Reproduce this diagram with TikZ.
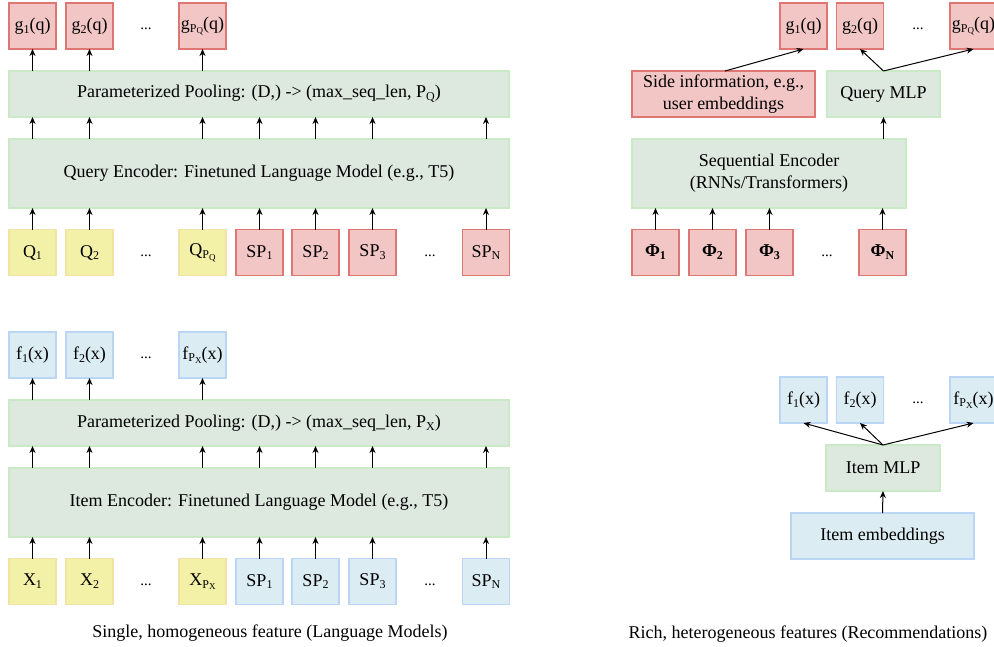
\documentclass[tikz,border=0pt]{standalone}
\usepackage{fontspec}
\setmainfont{Liberation Serif}
\usetikzlibrary{arrows.meta}
\definecolor{redfill}{HTML}{F3C6C6}
\definecolor{redline}{HTML}{DE7674}
\definecolor{yelfill}{HTML}{F3F1A8}
\definecolor{yelline}{HTML}{F3E2A6}
\definecolor{blufill}{HTML}{DCECF3}
\definecolor{bluline}{HTML}{BBD5F5}
\definecolor{grnfill}{HTML}{DDE8DF}
\definecolor{grnline}{HTML}{CAE9C5}
\newcommand\lsub[1]{\raisebox{-0.35ex}{\fontsize{12}{12}\selectfont #1}}
\newcommand\llsub[1]{\raisebox{-0.3ex}{\fontsize{9}{9}\selectfont #1}}
\begin{document}
\begin{tikzpicture}[x=1pt,y=-1pt,
  every node/.style={font=\fontsize{18}{22}\selectfont, inner sep=0pt, outer sep=0pt},
  box/.style={draw, line width=1.5pt, minimum width=47pt, minimum height=46pt},
  redbox/.style={box, fill=redfill, draw=redline},
  yelbox/.style={box, fill=yelfill, draw=yelline},
  blubox/.style={box, fill=blufill, draw=bluline},
  grnbox/.style={box, fill=grnfill, draw=grnline, align=center},
  arr/.style={-{Stealth[length=7pt,width=6pt]}, line width=1pt, black},
  dots/.style={font=\fontsize{15}{18}\selectfont}
]
\useasboundingbox (0,0) rectangle (994,646);

% ===== Top-left: query side =====
\node[redbox] (g1) at (32.5,26) {g\lsub{1}(q)};
\node[redbox] (g2) at (89.5,26) {g\lsub{2}(q)};
\node[dots] (gd) at (146,29) {...};
\node[redbox] (gp) at (202.5,26) {g\lsub{P\llsub{Q}}(q)};
\node[grnbox, minimum width=500pt] (poolq) at (259,94) {Parameterized Pooling: (D,) -> (max\_seq\_len, P\lsub{Q})};
\node[grnbox, minimum width=500pt, minimum height=69pt] (encq) at (259,173.5) {Query Encoder: Finetuned Language Model (e.g., T5)};
\node[yelbox] (q1) at (32.5,252.5) {Q\lsub{1}};
\node[yelbox] (q2) at (89.5,252.5) {Q\lsub{2}};
\node[dots] (qd) at (146,256) {...};
\node[yelbox] (qp) at (202.5,252.5) {Q\lsub{P\llsub{Q}}};
\node[redbox] (sa1) at (259.5,252.5) {SP\lsub{1}};
\node[redbox] (sa2) at (315.5,252.5) {SP\lsub{2}};
\node[redbox] (sa3) at (372.5,252.5) {SP\lsub{3}};
\node[dots] (sad) at (430,256) {...};
\node[redbox] (saN) at (486,252.5) {SP\lsub{N}};

\foreach \n in {q1,q2,qp,sa1,sa2,sa3,saN}{
  \draw[arr] (\n.north) -- (\n.north |- encq.south);
  \draw[arr] (\n.north |- encq.north) -- (\n.north |- poolq.south);
}
\foreach \n in {g1,g2,gp}{
  \draw[arr] (\n.south |- poolq.north) -- (\n.south);
}

% ===== Bottom-left: item side =====
\node[blubox] (f1) at (32.5,355) {f\lsub{1}(x)};
\node[blubox] (f2) at (89.5,355) {f\lsub{2}(x)};
\node[dots] (fd) at (146,358) {...};
\node[blubox] (fp) at (202.5,355) {f\lsub{P\llsub{X}}(x)};
\node[grnbox, minimum width=500pt] (poolx) at (259,423) {Parameterized Pooling: (D,) -> (max\_seq\_len, P\lsub{X})};
\node[grnbox, minimum width=500pt, minimum height=69pt] (encx) at (259,502.5) {Item Encoder: Finetuned Language Model (e.g., T5)};
\node[yelbox] (x1) at (32.5,581.5) {X\lsub{1}};
\node[yelbox] (x2) at (89.5,581.5) {X\lsub{2}};
\node[dots] (xd) at (146,585) {...};
\node[yelbox] (xp) at (202.5,581.5) {X\lsub{P\llsub{X}}};
\node[blubox] (sb1) at (259.5,581.5) {SP\lsub{1}};
\node[blubox] (sb2) at (315.5,581.5) {SP\lsub{2}};
\node[blubox] (sb3) at (372.5,581.5) {SP\lsub{3}};
\node[dots] (sbd) at (430,585) {...};
\node[blubox] (sbN) at (486,581.5) {SP\lsub{N}};

\foreach \n in {x1,x2,xp,sb1,sb2,sb3,sbN}{
  \draw[arr] (\n.north) -- (\n.north |- encx.south);
  \draw[arr] (\n.north |- encx.north) -- (\n.north |- poolx.south);
}
\foreach \n in {f1,f2,fp}{
  \draw[arr] (\n.south |- poolx.north) -- (\n.south);
}

\node (capl) at (270,633) {Single, homogeneous feature (Language Models)};

% ===== Top-right: recommendation query side =====
\node[redbox] (rg1) at (803.5,26) {g\lsub{1}(q)};
\node[redbox] (rg2) at (860,26) {g\lsub{2}(q)};
\node[dots] (rgd) at (918,29) {...};
\node[redbox] (rgp) at (973.5,26) {g\lsub{P\llsub{Q}}(q)};
\node[redbox, minimum width=183pt, align=center] (side) at (723.5,94) {Side information, e.g.,\\user embeddings};
\node[grnbox, minimum width=113pt] (qmlp) at (883.5,94) {Query MLP};
\node[grnbox, minimum width=274pt, minimum height=69pt] (seq) at (769,173.5) {Sequential Encoder\\(RNNs/Transformers)};
\node[redbox] (ph1) at (655.5,252.5) {\textbf{Φ\lsub{1}}};
\node[redbox] (ph2) at (712.5,252.5) {\textbf{Φ\lsub{2}}};
\node[redbox] (ph3) at (769.5,252.5) {\textbf{Φ\lsub{3}}};
\node[dots] (phd) at (827,256) {...};
\node[redbox] (phN) at (882.5,252.5) {\textbf{Φ\lsub{N}}};
\foreach \n in {ph1,ph2,ph3,phN}{
  \draw[arr] (\n.north) -- (\n.north |- seq.south);
}
\draw[arr] (qmlp.south |- seq.north) -- (qmlp.south);
\draw[arr] ([xshift=1.5pt]side.north) -- (rg1.south);
\draw[arr] (qmlp.north) -- (rg2.south);
\draw[arr] (qmlp.north) -- (rgp.south);

% ===== Bottom-right: recommendation item side =====
\node[blubox] (rf1) at (803.5,400) {f\lsub{1}(x)};
\node[blubox] (rf2) at (860,400) {f\lsub{2}(x)};
\node[dots] (rfd) at (918,403) {...};
\node[blubox] (rfp) at (973.5,400) {f\lsub{P\llsub{X}}(x)};
\node[grnbox, minimum width=114pt] (imlp) at (883,468) {Item MLP};
\node[blubox, minimum width=183pt] (iemb) at (882.5,536) {Item embeddings};
\draw[arr] (iemb.north) -- (imlp.south);
\draw[arr] (imlp.north) -- (rf1.south);
\draw[arr] (imlp.north) -- (rf2.south);
\draw[arr] (imlp.north) -- (rfp.south);

\node (capr) at (808,634) {Rich, heterogeneous features (Recommendations)};
\end{tikzpicture}
\end{document}
